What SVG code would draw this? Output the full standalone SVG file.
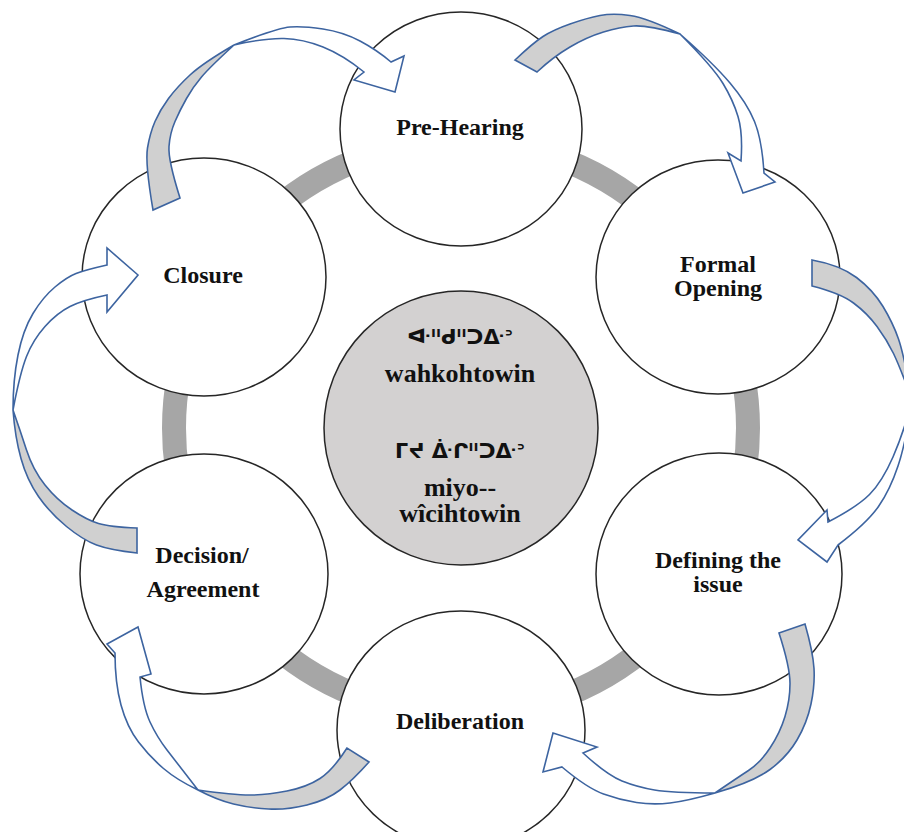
<svg xmlns="http://www.w3.org/2000/svg" width="904" height="832" viewBox="0 0 904 832">
<style>
.node ellipse{fill:#ffffff;stroke:#262626;stroke-width:1.5}
.center circle{fill:#d3d1d1;stroke:#262626;stroke-width:1.5}
.lbl{font-family:"Liberation Serif","Times New Roman",serif;font-weight:bold;font-size:24px;fill:#111111;text-anchor:middle}
.big{font-size:26px}
.syl{font-family:"DejaVu Sans","Noto Sans",sans-serif;font-weight:bold;font-size:21px;fill:#111111;text-anchor:middle}
.back{fill:#d0d0d0;stroke:#3d64a0;stroke-width:1.6;stroke-linejoin:miter}
.front{fill:#ffffff;stroke:#3d64a0;stroke-width:1.6;stroke-linejoin:miter}
</style>
<rect width="904" height="832" fill="#ffffff"/>
<g id="ring">
<circle cx="461" cy="428" r="287" fill="none" stroke="#a6a6a6" stroke-width="24"/>
</g>
<g id="node-pre-hearing" class="node"><ellipse cx="461" cy="129" rx="121" ry="117"/><text class="lbl" x="460" y="135">Pre-Hearing</text></g>
<g id="node-formal-opening" class="node"><ellipse cx="718" cy="277" rx="122" ry="117"/><text class="lbl" x="718" y="272">Formal</text><text class="lbl" x="718" y="296">Opening</text></g>
<g id="node-defining" class="node"><ellipse cx="719" cy="574" rx="123" ry="121"/><text class="lbl" x="718" y="568">Defining the</text><text class="lbl" x="718" y="592">issue</text></g>
<g id="node-deliberation" class="node"><ellipse cx="461" cy="730" rx="124" ry="119"/><text class="lbl" x="460" y="729">Deliberation</text></g>
<g id="node-decision" class="node"><ellipse cx="204" cy="574" rx="124" ry="120"/><text class="lbl" x="202" y="563">Decision/</text><text class="lbl" x="203" y="597">Agreement</text></g>
<g id="node-closure" class="node"><ellipse cx="204" cy="277" rx="122" ry="119"/><text class="lbl" x="203" y="283">Closure</text></g>
<g id="node-center" class="center">
<circle cx="461" cy="428" r="137"/>
<text class="syl" x="460" y="344">ᐘᐦᑯᐦᑐᐏᐣ</text>
<text class="lbl big" x="460" y="382">wahkohtowin</text>
<text class="syl" x="460" y="458">ᒥᔪ ᐑᒋᐦᑐᐏᐣ</text>
<text class="lbl big" x="460" y="496">miyo--</text>
<text class="lbl big" x="460" y="522">wîcihtowin</text>
</g>
<g id="connectors">
<g id="arrow-closure-prehearing">
<path class="back" d="M153,210 Q145,163 147.5,148 Q150,133 155,121.5 Q160,110 168.5,98.5 Q177,87 190,75 Q203,63 234,45 Q210,67 201.5,77 Q193,87 186.5,98.5 Q180,110 175,121.5 Q170,133 169,146.5 Q168,160 180,198 Z"/>
<path class="front" d="M234,45 Q277,28 290,27 Q303,26 323,29 Q343,32 360,41 Q377,50 391,62 L404,56 L395,92 L354,80 L364,72 Q343,55 323,47 Q303,39 284,38.5 Q265,38 234,45 Z"/>
</g>
<g id="arrow-prehearing-formal">
<path class="back" d="M515,60 Q533,43 543,36.5 Q553,30 570,24 Q587,18 600,15.5 Q613,13 630,15.5 Q647,18 680,34 Q647,25 633.5,26 Q620,27 603.5,32 Q587,37 570,47 Q553,57 537,72 Z"/>
<path class="front" d="M680,34 Q713,63 730,83 Q747,103 754.5,121.5 Q762,140 764,173 L775,182 L743,193 L728,153 L741,161 Q743,133 738,116.5 Q733,100 723,83.5 Q713,67 680,34 Z"/>
</g>
<g id="arrow-formal-defining">
<path class="back" d="M812,260 Q840,265 856.5,277.5 Q873,290 883,306.5 Q893,323 898.5,339 Q904,355 912,400 Q900,367 893.5,353.5 Q887,340 877,326.5 Q867,313 853.5,303 Q840,293 812,286 Z"/>
<path class="front" d="M912,400 Q906,442 898,466 Q890,490 878.5,506.5 Q867,523 838,545 L827,562 L798,540 L827,510 L828,522 Q857,507 869.5,494.5 Q882,482 893,457 Q904,432 912,400 Z"/>
</g>
<g id="arrow-defining-deliberation">
<path class="back" d="M805,624 Q813,652 814,668.5 Q815,685 811,704 Q807,723 797,740 Q787,757 770,769.5 Q753,782 715,793 Q737,778 748.5,770.5 Q760,763 770,748 Q780,733 785,716.5 Q790,700 790,683.5 Q790,667 779,633 Z"/>
<path class="front" d="M715,793 Q687,801 670,803 Q653,805 636.5,802.5 Q620,800 603.5,794 Q587,788 562,767 L543,772 L553,733 L597,747 L583,753 Q607,775 622,781 Q637,787 654.5,790 Q672,793 715,793 Z"/>
</g>
<g id="arrow-deliberation-decision">
<path class="back" d="M369,762 Q353,780 340,790 Q327,800 307,805 Q287,810 268.5,809 Q250,808 233.5,804 Q217,800 198,790 Q233,795 250,795 Q267,795 287,791 Q307,787 320,778.5 Q333,770 347,748 Z"/>
<path class="front" d="M198,790 Q177,780 163.5,768.5 Q150,757 138.5,742 Q127,727 121,705 Q115,683 115,653 L107,644 L138,627 L151,674 L140,677 Q143,707 150,722 Q157,737 167,750 Q177,763 198,790 Z"/>
</g>
<g id="arrow-decision-closure">
<path class="back" d="M137,553 Q110,550 96.5,545 Q83,540 66.5,526.5 Q50,513 38.5,496.5 Q27,480 21,458.5 Q15,437 13,410 Q20,430 26.5,450 Q33,470 45,485 Q57,500 72,510 Q87,520 98.5,523.5 Q110,527 137,528 Z"/>
<path class="front" d="M13,410 Q13,380 18,355 Q23,330 33,313.5 Q43,297 55,287 Q67,277 76,273.5 Q85,270 107,265 L107,248 L138,275 L107,312 L107,295 Q83,300 70,306.5 Q57,313 45,326.5 Q33,340 26.5,356.5 Q20,373 13,410 Z"/>
</g>
</g>
</svg>
